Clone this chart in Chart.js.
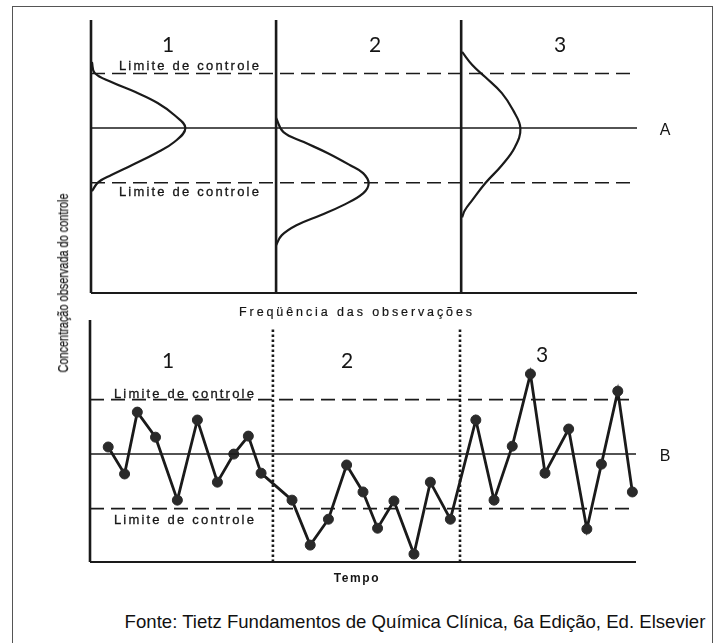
<!DOCTYPE html>
<html>
<head>
<meta charset="utf-8">
<script src="https://cdn.jsdelivr.net/npm/chart.js@4.4.1/dist/chart.umd.min.js"></script>
<style>
    html, body { margin: 0; padding: 0; background: #fff; }
    body { width: 719px; height: 643px; position: relative; overflow: hidden; font-family: 'Liberation Sans', Arial, sans-serif; color: #151515; }
    .moldura { position: absolute; left: 12px; top: 6px; width: 701px; height: 660px; border: 1px solid #555; box-sizing: border-box; }
    canvas { position: absolute; left: 0; }
    .txt { position: absolute; white-space: nowrap; transform: translate(-50%, -50%); line-height: 1; }
    .num { font-family: Lato, 'Open Sans', sans-serif; font-size: 21px; }
    .lim { font-size: 13px; letter-spacing: 2.2px; -webkit-text-stroke: 0.3px #151515; }
    .letra { font-size: 16px; }
    .eixo { font-size: 12.5px; letter-spacing: 2.9px; -webkit-text-stroke: 0.2px #151515; }
    .vert { font-size: 14px; color: #1c1c1c; -webkit-text-stroke: 0.25px #1c1c1c; transform: translate(-50%, -50%) rotate(-90deg) scaleX(0.78); }
    .fonte { font-size: 18.6px; color: #111; }
</style>
</head>
<body>
<div class="moldura"></div>
<canvas id="graficoA" width="719" height="300" style="top:0"></canvas>
<canvas id="graficoB" width="719" height="300" style="top:300px"></canvas>

<div class="txt num" style="left:168px; top:43px">1</div>
<div class="txt num" style="left:375px; top:43px">2</div>
<div class="txt num" style="left:560px; top:43px">3</div>
<div class="txt lim" style="left:190px; top:65px">Limite de controle</div>
<div class="txt lim" style="left:190px; top:191px">Limite de controle</div>
<div class="txt letra" style="left:665px; top:130px">A</div>
<div class="txt eixo" style="left:357px; top:312px">Freqüência das observações</div>
<div class="txt vert" style="left:63px; top:283px">Concentração observada do controle</div>

<div class="txt num" style="left:168px; top:359px">1</div>
<div class="txt num" style="left:347px; top:359px">2</div>
<div class="txt num" style="left:542px; top:353px">3</div>
<div class="txt lim" style="left:185px; top:393px">Limite de controle</div>
<div class="txt lim" style="left:185px; top:519px">Limite de controle</div>
<div class="txt letra" style="left:665px; top:456px">B</div>
<div class="txt" style="left:357px; top:578px; font-size:12px; font-weight:bold; letter-spacing:1.6px">Tempo</div>

<div class="txt fonte" style="left:415px; top:622px">Fonte: Tietz Fundamentos de Química Clínica, 6a Edição, Ed. Elsevier</div>

<script>
// limites de controle e média (em desvios-padrão)
const media = 0;
const limiteSuperior = 2;
const limiteInferior = -2;

// painel A - distribuições (frequência relativa x concentração)
const inicioSecao = [0, 100, 200];
const freqMaxA = 295;
const concMinA = -6.04;
const concMaxA = 3.96;

const freq1 = [0.5, 2, 11, 24, 36, 45, 51, 45, 35, 22, 11, 4, 0.5];
const conc1 = [2.42, 2.02, 1.69, 1.32, 0.92, 0.48, 0, -0.51, -0.92, -1.36, -1.72, -1.98, -2.31];

const freq2 = [0, 4, 15, 28, 40, 47, 50, 47, 36, 24, 11, 3, 0];
const conc2 = [0.37, -0.15, -0.51, -0.92, -1.36, -1.65, -2.02, -2.39, -2.83, -3.19, -3.56, -3.93, -4.29];

const freq3 = [0.5, 6, 13, 22, 28, 32, 29, 22, 13, 6, 2, 0.5];
const conc3 = [2.79, 2.31, 1.87, 1.28, 0.66, 0, -0.70, -1.36, -2.02, -2.64, -3.01, -3.27];

// painel B - gráfico de controle (tempo x concentração)
const tempoMaxB = 30;
const concMinB = -3.96;
const concMaxB = 4.92;
const topoDivisao = 4.66;
const divisoesTempo = [10.05, 20.33];

const tempo = [1.0, 1.9, 2.6, 3.6, 4.8, 5.9, 7.0, 7.9, 8.7, 9.4,
               11.1, 12.1, 13.1, 14.1, 15.0, 15.8, 16.7, 17.8, 18.7, 19.8,
               21.2, 22.2, 23.2, 24.2, 25.0, 26.3, 27.3, 28.1, 29.0, 29.8];
const concentracao = [0.26, -0.73, 1.54, 0.62, -1.69, 1.25, -1.03, 0, 0.66, -0.70,
                      -1.69, -3.34, -2.39, -0.40, -1.39, -2.72, -1.72, -3.67, -1.03, -2.39,
                      1.25, -1.69, 0.29, 2.94, -0.70, 0.92, -2.75, -0.37, 2.31, -1.39];

const tinta = '#1a1a1a';

function linha(pontos, largura, tracejado) {
    return {
        data: pontos,
        showLine: true,
        borderColor: tinta,
        borderWidth: largura,
        borderDash: tracejado || [],
        pointRadius: 0,
        tension: 0,
        clip: false
    };
}

function curva(base, freq, conc) {
    const ds = linha(freq.map((f, i) => ({ x: base + f, y: conc[i] })), 2.2);
    ds.tension = 0.4;
    return ds;
}

function opcoes(xMax, yMin, yMax, padding) {
    return {
        responsive: false,
        animation: false,
        layout: { padding: padding },
        plugins: { legend: { display: false }, tooltip: { enabled: false } },
        scales: {
            x: { type: 'linear', display: false, min: 0, max: xMax },
            y: { type: 'linear', display: false, min: yMin, max: yMax }
        }
    };
}

const ctxA = document.getElementById('graficoA').getContext('2d');
const graficoA = new Chart(ctxA, {
    type: 'scatter',
    data: {
        datasets: [
            linha([{ x: 0, y: limiteSuperior }, { x: freqMaxA, y: limiteSuperior }], 1.6, [14, 7]),
            linha([{ x: 0, y: media }, { x: freqMaxA, y: media }], 1.5),
            linha([{ x: 0, y: limiteInferior }, { x: freqMaxA, y: limiteInferior }], 1.6, [14, 7]),
            ...inicioSecao.map(b => linha([{ x: b, y: concMinA }, { x: b, y: concMaxA }], 2.6)),
            linha([{ x: 0, y: concMinA }, { x: freqMaxA, y: concMinA }], 2.2),
            curva(inicioSecao[0], freq1, conc1),
            curva(inicioSecao[1], freq2, conc2),
            curva(inicioSecao[2], freq3, conc3)
        ]
    },
    options: opcoes(freqMaxA, concMinA, concMaxA, { left: 91, right: 82, top: 20, bottom: 7 })
});

const ctxB = document.getElementById('graficoB').getContext('2d');
const graficoB = new Chart(ctxB, {
    type: 'scatter',
    data: {
        datasets: [
            linha([{ x: 0, y: limiteSuperior }, { x: tempoMaxB, y: limiteSuperior }], 1.6, [14, 7]),
            linha([{ x: 0, y: media }, { x: tempoMaxB, y: media }], 1.5),
            linha([{ x: 0, y: limiteInferior }, { x: tempoMaxB, y: limiteInferior }], 1.6, [14, 7]),
            ...divisoesTempo.map(t => linha([{ x: t, y: concMinB }, { x: t, y: topoDivisao }], 2.6, [2.6, 2.4])),
            linha([{ x: 0, y: concMinB }, { x: 0, y: concMaxB }], 2.6),
            linha([{ x: 0, y: concMinB }, { x: tempoMaxB, y: concMinB }], 2.2),
            {
                data: tempo.map((t, i) => ({ x: t, y: concentracao[i] })),
                showLine: true,
                borderColor: tinta,
                borderWidth: 2.8,
                pointRadius: 5,
                pointBackgroundColor: '#2a2a2a',
                pointBorderColor: '#2a2a2a',
                pointBorderWidth: 1,
                tension: 0,
                clip: false
            }
        ]
    },
    options: opcoes(tempoMaxB, concMinB, concMaxB, { left: 90, right: 83, top: 20, bottom: 38 })
});
</script>
</body>
</html>
